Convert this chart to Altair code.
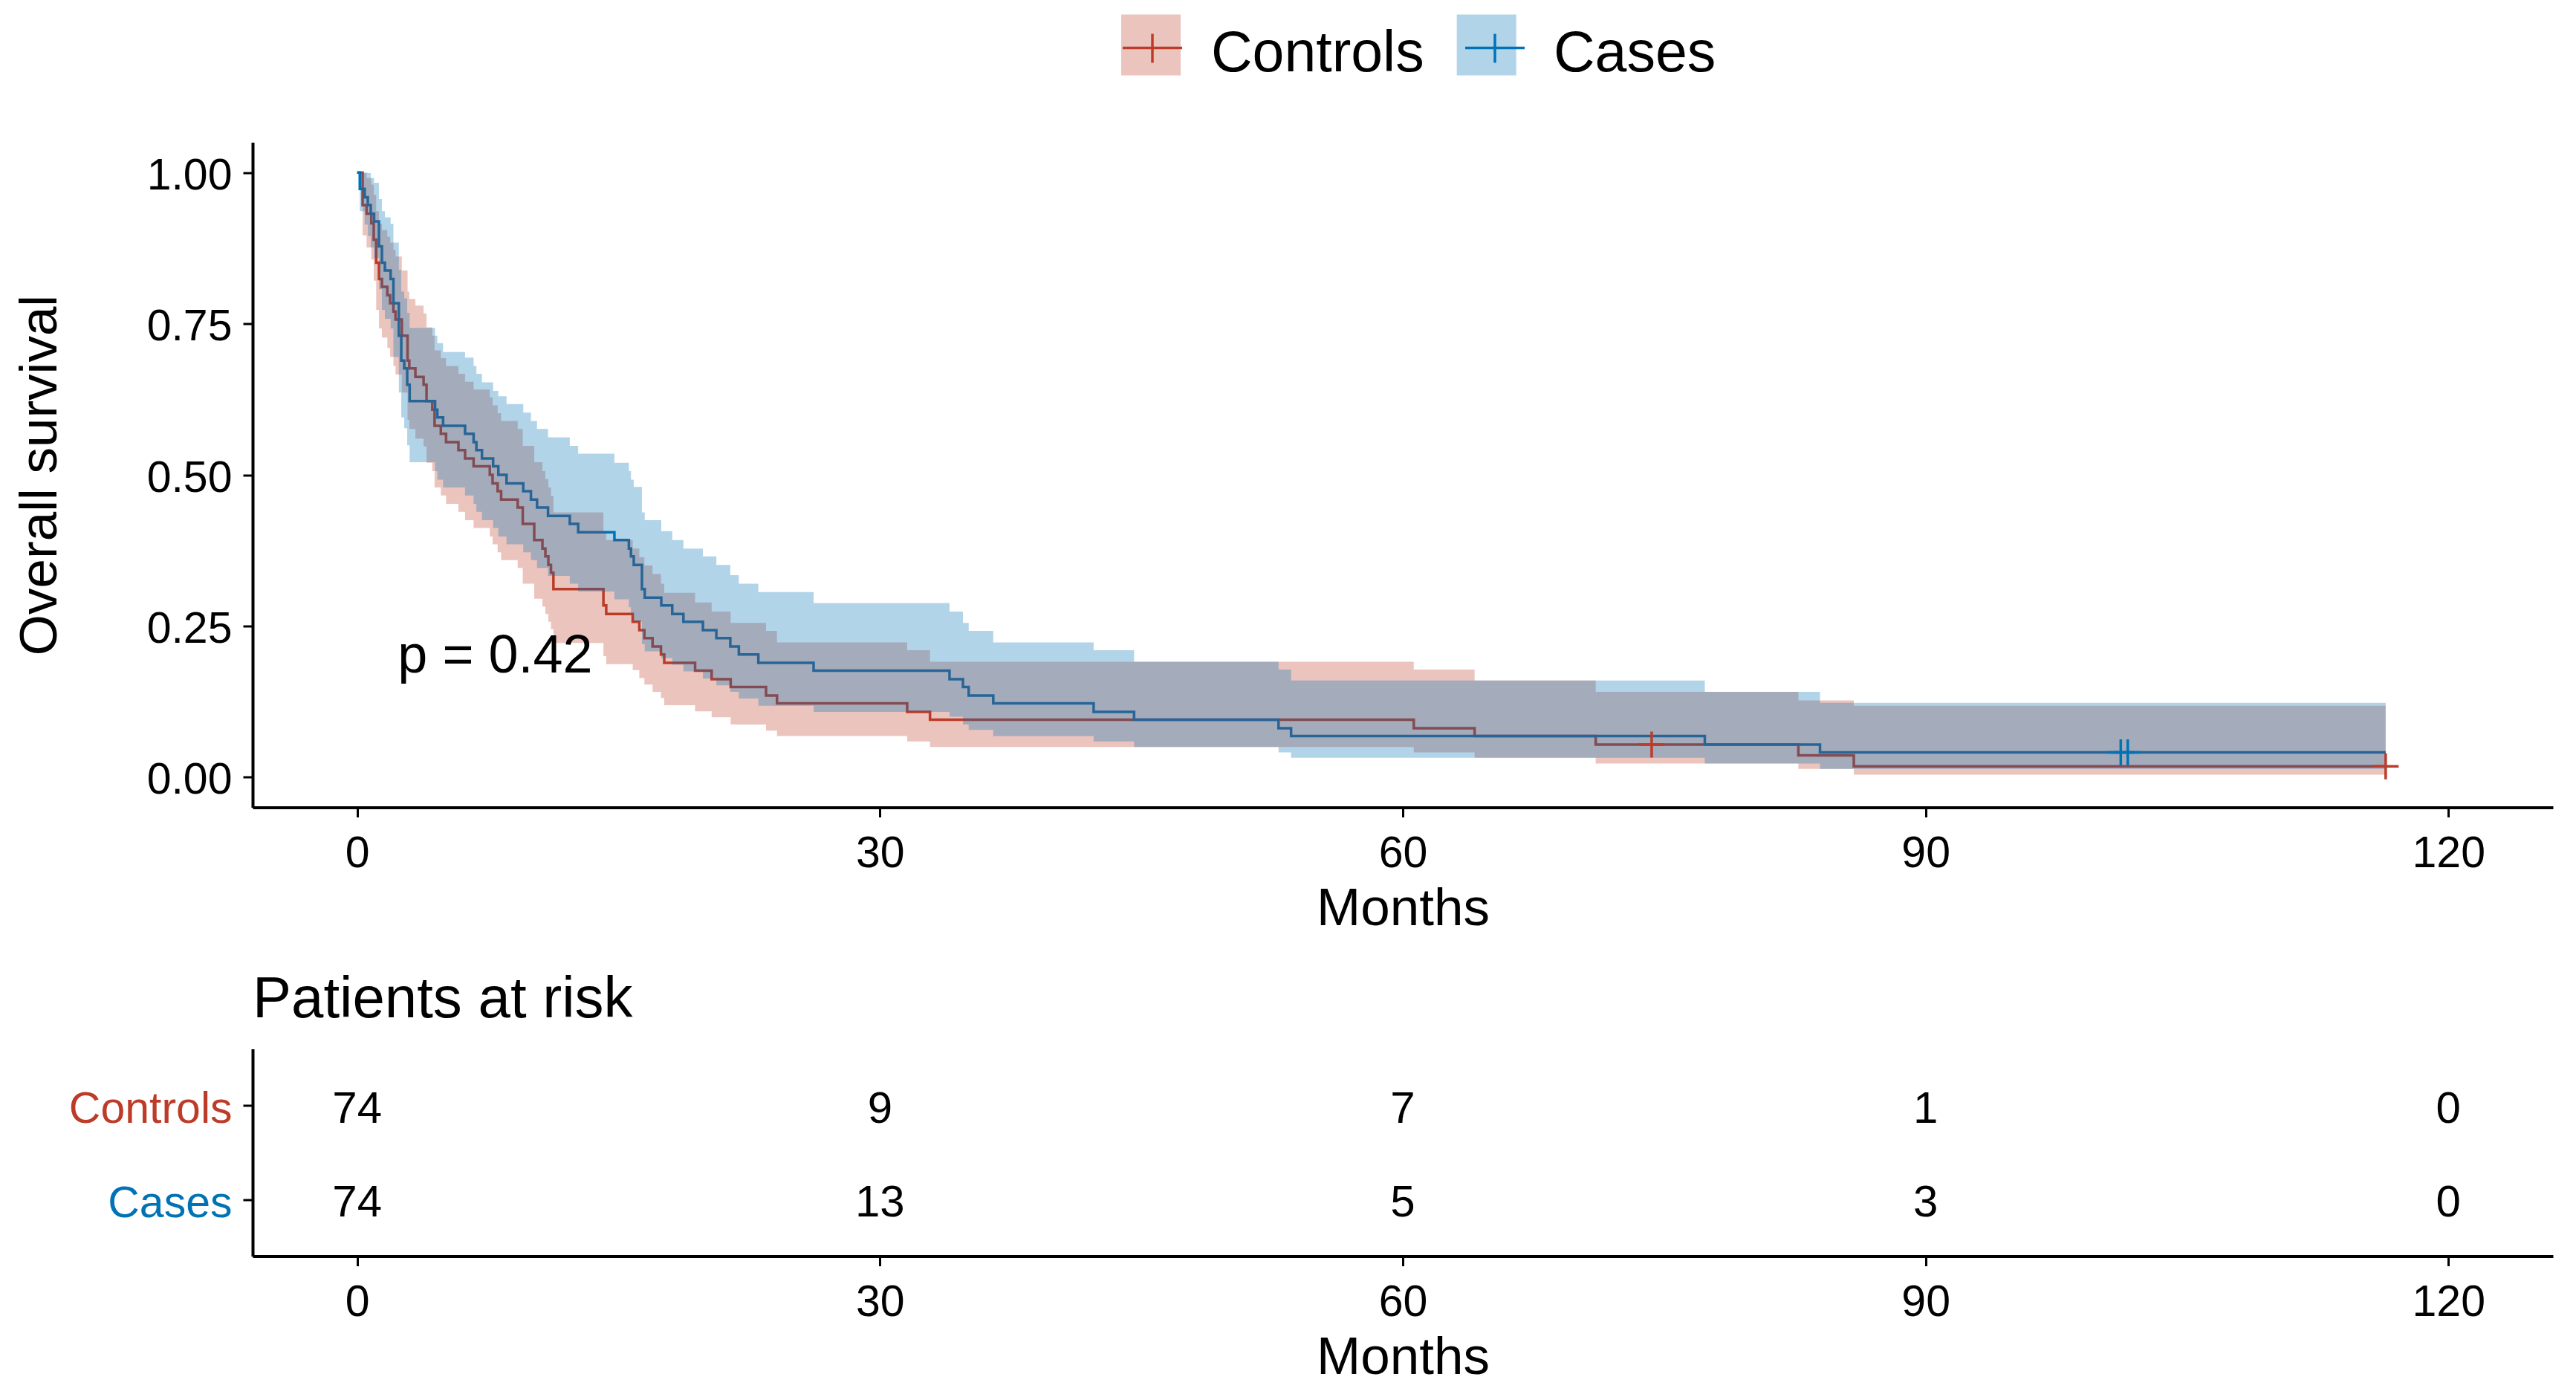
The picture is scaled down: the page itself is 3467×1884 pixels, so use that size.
import altair as alt
import pandas as pd

# ---------------- values ----------------
groups = ["Controls", "Cases"]
group_colors = ["#BC3C29", "#0072B5"]
p_label = "p = 0.42"

ctrl_time = [0, 0.31, 0.54, 0.81, 0.95, 1.09, 1.25, 1.42, 1.73, 1.89,
             2.08, 2.20, 2.56, 2.89, 2.99, 3.34, 3.81, 3.98, 4.31, 4.44,
             4.80, 5.10, 5.81, 6.19, 6.68, 7.61, 7.77, 8.06, 8.26, 9.21,
             9.50, 10.16, 10.63, 10.80, 10.97, 11.12, 11.26, 14.13, 14.29, 15.81,
             16.19, 16.48, 16.95, 17.43, 17.62, 19.39, 20.34, 21.43, 23.46, 24.09,
             31.56, 32.87, 60.63, 64.12, 71.07, 82.70, 85.88, 116.4]
ctrl_surv = [1, 0.946, 0.932, 0.916, 0.889, 0.851, 0.824, 0.811, 0.797, 0.784,
             0.770, 0.757, 0.730, 0.689, 0.676, 0.662, 0.649, 0.622, 0.608, 0.581,
             0.568, 0.554, 0.541, 0.527, 0.514, 0.500, 0.486, 0.473, 0.459, 0.446,
             0.419, 0.392, 0.378, 0.365, 0.351, 0.338, 0.311, 0.284, 0.270, 0.257,
             0.243, 0.230, 0.216, 0.203, 0.189, 0.176, 0.162, 0.149, 0.135, 0.122,
             0.108, 0.095, 0.081, 0.068, 0.054, 0.036, 0.018, 0.018]
ctrl_lower = [1, 0.896, 0.876, 0.856, 0.821, 0.773, 0.742, 0.727, 0.710, 0.695,
              0.680, 0.666, 0.636, 0.591, 0.576, 0.560, 0.547, 0.520, 0.506, 0.479,
              0.466, 0.452, 0.439, 0.425, 0.412, 0.398, 0.385, 0.372, 0.359, 0.346,
              0.320, 0.295, 0.282, 0.270, 0.257, 0.245, 0.222, 0.200, 0.187, 0.177,
              0.164, 0.153, 0.141, 0.131, 0.119, 0.109, 0.099, 0.087, 0.077, 0.068,
              0.059, 0.050, 0.041, 0.032, 0.0226, 0.0136, 0.0041, 0.0041]
ctrl_upper = [1, 0.999, 0.991, 0.980, 0.963, 0.936, 0.915, 0.905, 0.894, 0.884,
              0.872, 0.861, 0.838, 0.803, 0.791, 0.780, 0.767, 0.744, 0.730, 0.706,
              0.693, 0.680, 0.667, 0.654, 0.641, 0.628, 0.615, 0.602, 0.589, 0.576,
              0.548, 0.521, 0.506, 0.493, 0.479, 0.465, 0.438, 0.406, 0.392, 0.378,
              0.364, 0.350, 0.336, 0.320, 0.305, 0.289, 0.274, 0.255, 0.242, 0.223,
              0.210, 0.191, 0.178, 0.160, 0.141, 0.127, 0.118, 0.118]
ctrl_censor = [74.28, 116.4]

case_time = [0, 0.15, 0.43, 0.61, 0.78, 0.97, 1.25, 1.42, 1.59, 1.92,
             2.08, 2.39, 2.53, 2.70, 2.87, 3.01, 4.47, 4.60, 4.93, 6.19,
             6.68, 6.84, 7.16, 7.80, 8.10, 8.57, 9.53, 9.97, 10.32, 10.95,
             12.20, 12.68, 14.76, 15.59, 15.71, 15.87, 16.34, 16.50, 17.45, 18.08,
             18.72, 19.84, 20.61, 21.41, 21.90, 23.02, 26.19, 33.99, 34.76, 35.09,
             36.50, 42.26, 44.58, 52.87, 53.59, 77.33, 83.94, 116.4]
case_surv = [1, 0.973, 0.959, 0.946, 0.932, 0.919, 0.878, 0.851, 0.838, 0.824,
             0.784, 0.730, 0.689, 0.676, 0.649, 0.622, 0.608, 0.595, 0.581, 0.568,
             0.554, 0.541, 0.527, 0.514, 0.500, 0.486, 0.473, 0.459, 0.446, 0.432,
             0.419, 0.405, 0.392, 0.378, 0.365, 0.351, 0.311, 0.297, 0.284, 0.270,
             0.257, 0.243, 0.230, 0.216, 0.203, 0.189, 0.176, 0.162, 0.149, 0.135,
             0.122, 0.108, 0.095, 0.081, 0.068, 0.054, 0.041, 0.041]
case_lower = [1, 0.936, 0.914, 0.895, 0.876, 0.859, 0.807, 0.773, 0.758, 0.742,
              0.695, 0.636, 0.595, 0.577, 0.549, 0.521, 0.506, 0.492, 0.479, 0.466,
              0.452, 0.439, 0.425, 0.412, 0.398, 0.385, 0.372, 0.359, 0.346, 0.333,
              0.320, 0.307, 0.294, 0.281, 0.269, 0.257, 0.220, 0.208, 0.197, 0.186,
              0.175, 0.163, 0.152, 0.141, 0.130, 0.118, 0.108, 0.100, 0.087, 0.078,
              0.068, 0.059, 0.050, 0.041, 0.032, 0.0226, 0.0136, 0.0136]
case_upper = [1, 1, 1, 0.999, 0.991, 0.983, 0.956, 0.936, 0.926, 0.915,
              0.884, 0.839, 0.803, 0.792, 0.768, 0.743, 0.730, 0.718, 0.703, 0.694,
              0.680, 0.667, 0.653, 0.639, 0.630, 0.617, 0.603, 0.589, 0.576, 0.562,
              0.548, 0.535, 0.520, 0.506, 0.492, 0.480, 0.438, 0.425, 0.407, 0.392,
              0.378, 0.365, 0.351, 0.334, 0.320, 0.306, 0.288, 0.274, 0.255, 0.242,
              0.223, 0.210, 0.191, 0.178, 0.160, 0.141, 0.123, 0.123]
case_censor = [101.2, 101.6]

risk_times = [0, 30, 60, 90, 120]
risk_controls = [74, 9, 7, 1, 0]
risk_cases = [74, 13, 5, 3, 0]
y_ticks = [0, 0.25, 0.5, 0.75, 1.0]

# ---------------- tables for the library ----------------
km = pd.concat([
    pd.DataFrame({"group": "Controls", "time": ctrl_time, "surv": ctrl_surv,
                  "lower": ctrl_lower, "upper": ctrl_upper}),
    pd.DataFrame({"group": "Cases", "time": case_time, "surv": case_surv,
                  "lower": case_lower, "upper": case_upper}),
], ignore_index=True)


def step_value(times, values, x):
    v = values[0]
    for t, s in zip(times, values):
        if t <= x:
            v = s
    return v


cens = pd.DataFrame({
    "group": ["Controls"] * len(ctrl_censor) + ["Cases"] * len(case_censor),
    "time": ctrl_censor + case_censor,
    "surv": [step_value(ctrl_time, ctrl_surv, c) for c in ctrl_censor]
    + [step_value(case_time, case_surv, c) for c in case_censor],
})

risk = pd.DataFrame({
    "group": ["Controls"] * len(risk_times) + ["Cases"] * len(risk_times),
    "time": risk_times + risk_times,
    "n": risk_controls + risk_cases,
})

leg_df = pd.DataFrame({"group": groups})
pval_x = max(ctrl_time + case_time) / 50.0

# ---------------- layout / style ----------------
FONT = "Liberation Sans"
W = 3096
H_MAIN = 895
H_TAB = 279
EXT = 246
X_DOMAIN = [-6, 126]
Y_DOMAIN = [-0.05, 1.05]
LX, LY = 1169, -160.5
LEG_FONT = 77
LEG_OFFSET = 37
LEG_COLPAD = 48
# width of the word "Controls" in the legend font (Arial metrics: 3.723 em)
CONTROLS_W = 3.723 * LEG_FONT

x_scale = alt.Scale(domain=X_DOMAIN, nice=False, zero=False)
y_scale = alt.Scale(domain=Y_DOMAIN, nice=False, zero=False)
x_axis = alt.Axis(values=risk_times, title="Months", labelPadding=20, titlePadding=10)
y_axis = alt.Axis(values=y_ticks, format=".2f", title="Overall survival", labelOffset=4,
                  labelPadding=15, titlePadding=4, minExtent=EXT, maxExtent=EXT)


def xe():
    return alt.X("time:Q", scale=x_scale, axis=x_axis)


def ye(field):
    return alt.Y(f"{field}:Q", scale=y_scale, axis=y_axis)


def line_layer(name, col):
    return alt.Chart(km).transform_filter(alt.datum.group == name).mark_line(
        interpolate="step-after", strokeWidth=3.5, color=col).encode(x=xe(), y=ye("surv"))


def band_layer(name, col):
    return alt.Chart(km).transform_filter(alt.datum.group == name).mark_area(
        interpolate="step-after", color=col, opacity=0.3).encode(
        x=xe(), y=ye("lower"), y2="upper:Q")


cross = "M-1,0H1M0,-1V1"


def censor_layer(name, col):
    return alt.Chart(cens).transform_filter(alt.datum.group == name).mark_point(
        shape=cross, size=1225, strokeWidth=3.5, filled=False, opacity=1, color=col).encode(
        x=xe(), y=ye("surv"))


ptext = alt.Chart(pd.DataFrame({"label": [p_label]})).mark_text(
    align="left", baseline="middle", fontSize=72, font=FONT, color="black").encode(
    x=alt.datum(pval_x), y=alt.datum(0.2), text="label:N")

legend_common = dict(orient="none", legendX=LX, legendY=LY, direction="horizontal",
                     columns=2, title=None, symbolSize=6400, labelFontSize=LEG_FONT,
                     padding=0, labelFont=FONT, labelColor="black", labelLimit=2000)

# key boxes (no labels; spacing chosen so the boxes sit under the crosses)
legend_fill = alt.Chart(leg_df).transform_calculate(
    key="datum.group + '_f'").transform_filter("false").mark_square(filled=True).encode(
    fill=alt.Fill("key:N",
                  scale=alt.Scale(domain=[g + "_f" for g in groups], range=group_colors),
                  legend=alt.Legend(symbolType="M-1,-1.29H1V0.76H-1Z", symbolOpacity=0.3,
                                    symbolStrokeWidth=0, zindex=0, labelExpr="''",
                                    labelOffset=0,
                                    columnPadding=LEG_OFFSET + CONTROLS_W + LEG_COLPAD,
                                    **legend_common)))

# crosses + labels
legend_cross = alt.Chart(leg_df).transform_filter("false").mark_point(
    filled=False, shape=cross).encode(
    color=alt.Color("group:N",
                    scale=alt.Scale(domain=groups, range=group_colors),
                    legend=alt.Legend(symbolType="M-1,-0.21H1M0,-0.69V0.29",
                                      symbolStrokeWidth=3.5, symbolFillColor="transparent",
                                      symbolOpacity=1, zindex=1, labelOffset=LEG_OFFSET,
                                      columnPadding=LEG_COLPAD, **legend_common)))

main = alt.layer(
    line_layer("Controls", group_colors[0]), line_layer("Cases", group_colors[1]),
    band_layer("Controls", group_colors[0]), band_layer("Cases", group_colors[1]),
    censor_layer("Controls", group_colors[0]), censor_layer("Cases", group_colors[1]),
    ptext, legend_fill, legend_cross,
).properties(width=W, height=H_MAIN)

label_color = {"expr": f"datum.value == 'Controls' ? '{group_colors[0]}' : '{group_colors[1]}'"}

table = alt.Chart(risk).mark_text(fontSize=60, font=FONT, color="black", dy=5).encode(
    x=alt.X("time:Q", scale=x_scale, axis=x_axis),
    y=alt.Y("group:N", sort=groups, scale=alt.Scale(type="point", padding=0.6),
            axis=alt.Axis(title=None, labelColor=label_color, labelLimit=1000, labelOffset=5,
                          labelPadding=15, minExtent=EXT, maxExtent=EXT)),
    text="n:Q",
).properties(
    width=W, height=H_TAB,
    title=alt.TitleParams("Patients at risk", anchor="start", frame="group", fontSize=78,
                          fontWeight="normal", baseline="bottom", offset=-51, font=FONT,
                          color="black"),
)

chart = alt.vconcat(main, table, spacing=48).resolve_scale(
    color="independent", fill="independent"
).properties(
    padding={"left": 10, "top": 22.5, "right": 8, "bottom": 5}
).configure(font=FONT).configure_view(stroke=None).configure_axis(
    labelFontSize=59, titleFontSize=71, labelColor="black", titleColor="black",
    domainColor="black", tickColor="black", domainWidth=4, tickWidth=3, tickSize=13,
    grid=False, titleFontWeight="normal", labelFont=FONT, titleFont=FONT,
    labelOverlap=False,
)

chart.save("out.html", embed_options={"renderer": "svg", "actions": False})
